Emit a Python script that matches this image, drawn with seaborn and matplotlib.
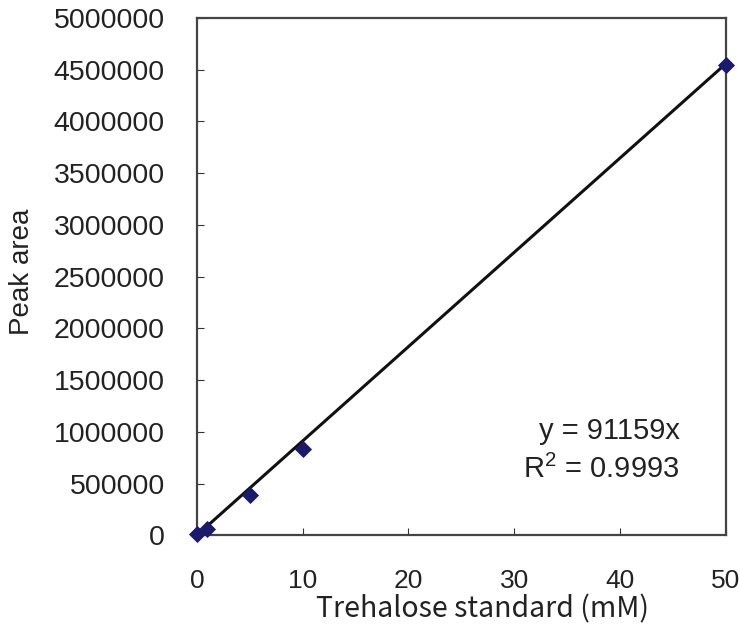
import numpy as np
import pandas as pd
import matplotlib
matplotlib.use("Agg")
import matplotlib.pyplot as plt
import seaborn as sns

# -------- data --------
conc = [0, 1, 5, 10, 50]
area = [10000, 60000, 390000, 830000, 4540000]
slope = 91159
fit_x = [0, 50]

df = pd.DataFrame({"conc": conc, "area": area})
fit = pd.DataFrame({"conc": fit_x, "area": [slope * v for v in fit_x]})

# -------- plot --------
sns.set_style("ticks")
plt.rcParams["font.family"] = ["Liberation Sans", "DejaVu Sans"]

fig = plt.figure(figsize=(7.4, 6.38), dpi=100)
ax = fig.add_axes([0.266, 0.161, 0.715, 0.811])

sns.lineplot(data=fit, x="conc", y="area", color="#111111", linewidth=2.2, ax=ax)
sns.scatterplot(data=df, x="conc", y="area", marker="D", s=65,
                color="#1c1a6b", edgecolor="#1c1a6b", ax=ax, zorder=3, clip_on=False)

ax.set_xlim(0, 50)
ax.set_ylim(0, 5000000)
ax.set_xticks(np.arange(0, 51, 10))
ax.set_yticks(np.arange(0, 5000001, 500000))
ax.yaxis.set_major_formatter(matplotlib.ticker.FuncFormatter(lambda v, p: f"{int(v)}"))
ax.tick_params(direction="in", length=5, labelsize=20.5, colors="#333333",
               labelcolor="#222222")
ax.tick_params(axis="y", pad=23)
ax.tick_params(axis="x", pad=24, labelsize=19)
for s in ax.spines.values():
    s.set_visible(True)
    s.set_color("#444444")
    s.set_linewidth(1.6)

ax.set_xlabel("Trehalose standard (mM)", fontsize=20.5, color="#222222",
              family=["Noto Sans CJK JP", "DejaVu Sans"])
ax.xaxis.set_label_coords(0.54, -0.115)
ax.set_ylabel("Peak area", fontsize=20, color="#222222")
ax.yaxis.set_label_coords(-0.305, 0.51)

ax.text(0.913, 0.11, "y = 91159x\n$\\mathregular{R^2}$ = 0.9993", transform=ax.transAxes,
        ha="right", va="baseline", fontsize=21, color="#222222", linespacing=1.45)

fig.savefig("out.png", dpi=100)
